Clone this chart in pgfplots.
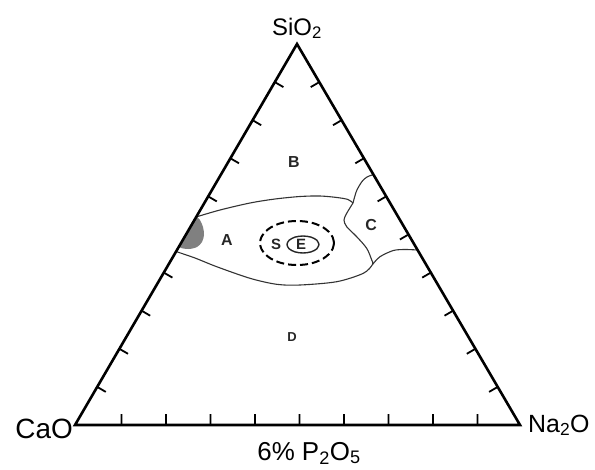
\documentclass[border=0pt]{standalone}
\usepackage{pgfplots}
\pgfplotsset{compat=1.18}
\usepackage{fontspec}
\setmainfont{Liberation Sans}

\begin{document}
\begin{tikzpicture}
\useasboundingbox (0,0) rectangle (595bp,470bp);
\begin{axis}[
    at={(0,0)}, anchor=south west,
    scale only axis, width=595bp, height=470bp,
    xmin=0, xmax=595, ymin=0, ymax=470,
    y dir=reverse,
    hide axis, clip=false,
    unbounded coords=jump,
]

% grey spot on the CaO-SiO2 side
\addplot[draw=none, fill=black!50, smooth] coordinates {
    (196.5,216.5) (200,220) (203,227) (204,235) (202,242) (197,247)
    (189,249) (181,248) (179.5,246)
} -- cycle;

% region boundaries
\addplot[black!80, line width=1.1bp, smooth] coordinates {
    (196,217) (220,210) (250,203) (275,199) (300,196.5) (320,196)
    (337,197.5) (348,199.5) (353,203)
};
\addplot[black!80, line width=1.1bp, smooth] coordinates {
    (353,203) (356.5,191) (362,181.5) (367,177) (373.5,174.5)
};
\addplot[black!80, line width=1.1bp, smooth] coordinates {
    (353,203) (346.7,213.3) (344,220) (346.7,226.7) (356.7,236.7)
    (366.7,248.3) (371.7,260) (372.5,264.5) (363.3,273.3) (336.7,281.7)
    (300,285) (276.7,284.3) (250,278.3) (216.7,266.7) (195,258) (176,251.5)
};
\addplot[black!80, line width=1.1bp, smooth] coordinates {
    (372.5,264.5) (380,256.7) (393.3,250.5) (405,249.5) (417.5,250)
};

% S zone (dashed) and E zone
\addplot[black, line width=2bp, dash pattern=on 8bp off 4bp, smooth] coordinates {
    (334,243) (332.7,248.7) (329.0,254) (323.2,258.6) (315.5,262.1)
    (306.6,264.3) (297,265) (287.4,264.3) (278.5,262.1) (270.8,258.6)
    (265.0,254) (261.3,248.7) (260,243) (261.3,237.3) (265.0,232)
    (270.8,227.4) (278.5,223.9) (287.4,221.7) (297,221) (306.6,221.7)
    (315.5,223.9) (323.2,227.4) (329.0,232) (332.7,237.3) (334,243)
};
\addplot[black!85, line width=1.4bp, smooth] coordinates {
    (319,244.5) (316.9,248.75) (311,251.9) (303,253) (295,251.9)
    (289.1,248.75) (287,244.5) (289.1,240.25) (295,237.1) (303,236)
    (311,237.1) (316.9,240.25) (319,244.5)
};

% triangle
\addplot[black, line width=2.6bp, line join=miter] coordinates {
    (75,425) (297,44) (520,425)
} -- cycle;

% ticks
\addplot[black, line width=1.8bp] coordinates {
    (121.5,425) (121.5,414) (nan,nan) (166,425) (166,414) (nan,nan)
    (210.5,425) (210.5,414) (nan,nan) (255,425) (255,414) (nan,nan)
    (299.5,425) (299.5,414) (nan,nan) (344,425) (344,414) (nan,nan)
    (388.5,425) (388.5,414) (nan,nan) (433,425) (433,414) (nan,nan)
    (477.5,425) (477.5,414) (nan,nan)
    (97.2,386.9) (105.8,391.9) (nan,nan) (119.4,348.8) (128.0,353.8) (nan,nan)
    (141.6,310.7) (150.2,315.7) (nan,nan) (163.8,272.6) (172.4,277.6) (nan,nan)
    (208.2,196.4) (216.8,201.4) (nan,nan) (230.4,158.3) (239.0,163.3) (nan,nan)
    (252.6,120.2) (261.2,125.2) (nan,nan) (274.8,82.1) (283.4,87.1) (nan,nan)
    (497.7,386.9) (489.1,391.9) (nan,nan) (475.4,348.8) (466.8,353.8) (nan,nan)
    (453.1,310.7) (444.5,315.7) (nan,nan) (430.8,272.6) (422.2,277.6) (nan,nan)
    (408.5,234.5) (399.9,239.5) (nan,nan) (386.2,196.4) (377.6,201.4) (nan,nan)
    (363.9,158.3) (355.3,163.3) (nan,nan) (341.6,120.2) (333.0,125.2) (nan,nan)
    (319.3,82.1) (310.7,87.1)
};

% corner and base labels
\node[anchor=base, inner sep=0pt, font=\fontsize{24}{28}\selectfont] at (axis cs:297,35) {SiO\textsubscript{2}};
\node[anchor=base east, inner sep=0pt, font=\fontsize{28}{32}\selectfont] at (axis cs:73,438) {CaO};
\node[anchor=base west, inner sep=0pt, font=\fontsize{25}{30}\selectfont] at (axis cs:528,432) {Na\textsubscript{2}O};
\node[anchor=base, inner sep=0pt, font=\fontsize{26}{30}\selectfont] at (axis cs:309,460) {6\% P\textsubscript{2}O\textsubscript{5}};

% region letters
\node[text=black!85, font=\fontsize{16}{18}\selectfont\bfseries] at (axis cs:294,162) {B};
\node[text=black!85, font=\fontsize{16}{18}\selectfont\bfseries] at (axis cs:227,240) {A};
\node[text=black!85, font=\fontsize{16}{18}\selectfont\bfseries] at (axis cs:371,225) {C};
\node[text=black!85, font=\fontsize{13}{15}\selectfont\bfseries] at (axis cs:292,337) {D};
\node[text=black!85, font=\fontsize{15}{17}\selectfont\bfseries] at (axis cs:276,244) {S};
\node[text=black!85, font=\fontsize{15}{17}\selectfont\bfseries] at (axis cs:301,244.5) {E};

\end{axis}
\end{tikzpicture}
\end{document}
